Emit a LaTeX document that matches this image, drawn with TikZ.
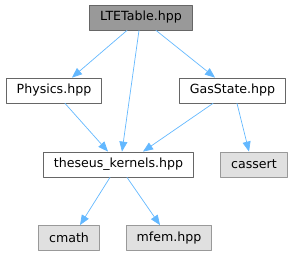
\documentclass[tikz,border=0pt]{standalone}
\usepackage{fontspec}
\setmainfont{DejaVu Sans}
\usetikzlibrary{arrows.meta}

\definecolor{edgeBlue}{HTML}{63B8FF}
\definecolor{rootFill}{HTML}{999999}
\definecolor{sysFill}{HTML}{E0E0E0}

\begin{document}
\begin{tikzpicture}[x=1pt, y=-1pt, >={Triangle[length=10pt,width=8pt]}, line cap=round, line join=round]

% ---------- styles ----------
\tikzset{
  hdrBox/.style  ={draw=black!60, fill=rootFill, line width=0.8pt, minimum height=25pt,
                   inner xsep=10.5pt, font=\fontsize{12.6}{14}\selectfont},
  fileBox/.style ={hdrBox, fill=white},
  sysBox/.style  ={hdrBox, draw=black!40, fill=sysFill},
  dep/.style     ={->, draw=edgeBlue, line width=0.7pt}
}

% fixed frame
\useasboundingbox (0,0) rectangle (295,256);

% ---------- headers ----------
\node[hdrBox]  (lteTable)  at (141,17.5)  {LTETable.hpp};
\node[fileBox] (physics)   at (54,90.5)   {Physics.hpp};
\node[fileBox] (gasState)  at (232.5,90.5) {GasState.hpp};
\node[fileBox] (kernels)   at (118.5,164.5) {theseus\_kernels.hpp};
\node[sysBox]  (cassert)   at (254,164.5) {cassert};
\node[sysBox]  (cmath)     at (69,238)    {cmath};
\node[sysBox]  (mfem)      at (169,238)   {mfem.hpp};

% ---------- include edges ----------
\draw[dep] (lteTable.south -| 127,0) -- (physics.north -| 72,0);
\draw[dep] (lteTable.south -| 139,0) -- (kernels.north -| 122,0);
\draw[dep] (lteTable.south -| 156,0) -- (gasState.north -| 215,0);
\draw[dep] (physics.south -| 65,0)   -- (kernels.north -| 108,0);
\draw[dep] (gasState.south -| 213,0) -- (kernels.north -| 143,0);
\draw[dep] (gasState.south -| 237,0) -- (cassert.north -| 249,0);
\draw[dep] (kernels.south -| 110,0)  -- (cmath.north -| 80,0);
\draw[dep] (kernels.south -| 127,0)  -- (mfem.north -| 160,0);

\end{tikzpicture}
\end{document}
